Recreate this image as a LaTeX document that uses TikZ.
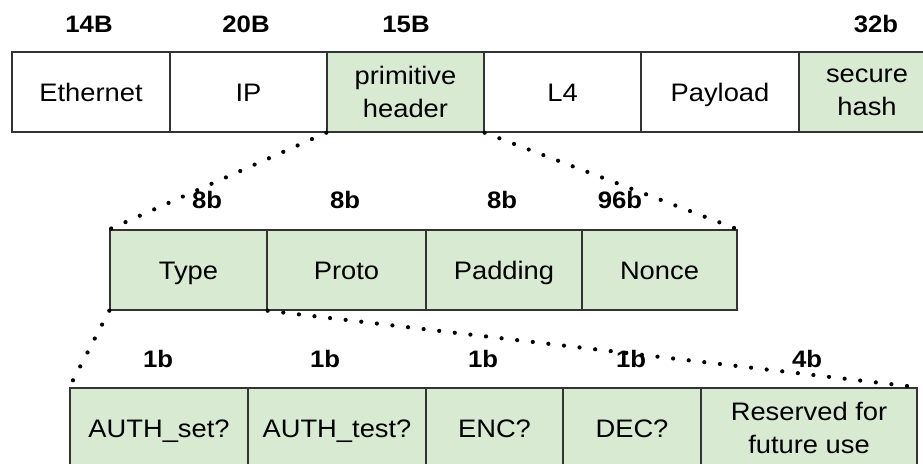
\documentclass[tikz,border=0pt]{standalone}
\usepackage{fontspec}
\setmainfont[FakeStretch=1.08]{Liberation Sans}
\definecolor{boxgreen}{HTML}{D9EAD3}
\definecolor{edge}{HTML}{333333}
\tikzset{
  box/.style={draw=edge, line width=1.4pt, minimum height=80pt, inner sep=0pt,
    font=\fontsize{25.3}{33}\selectfont, align=center},
  plain/.style={box, fill=white},
  green/.style={box, fill=boxgreen},
  one/.style={text height=18pt, text depth=0pt},
  size/.style={font=\fontsize{23.8}{26}\selectfont\bfseries, anchor=base, inner sep=0pt},
  dots/.style={line width=4.2pt, line cap=round, dash pattern=on 0pt off 15.7pt, draw=black}
}
\begin{document}
\begin{tikzpicture}[x=1pt,y=-1pt]
\useasboundingbox (0,0) rectangle (923,463);
\begin{scope}
\clip (0,0) rectangle (923,463);
% top row
\node[plain,one,minimum width=158pt] (eth) at (91,92) {Ethernet};
\node[plain,one,minimum width=157pt] (ip) at (248.5,92) {IP};
\node[green,minimum width=157pt] (ph) at (405.5,92) {primitive\\header};
\node[plain,one,minimum width=157pt] (l4) at (562.5,92) {L4};
\node[plain,one,minimum width=158pt] (pay) at (720,92) {Payload};
\node[green,minimum width=136pt] (hash) at (867,92) {secure\\hash};
% second row
\node[green,one,minimum width=157pt] (type) at (188.5,270) {Type};
\node[green,one,minimum width=159pt] (proto) at (346.5,270) {Proto};
\node[green,one,minimum width=156pt] (pad) at (504,270) {Padding};
\node[green,one,minimum width=155pt] (nonce) at (659.5,270) {Nonce};
% third row
\node[green,one,minimum width=178pt] (aset) at (159,428) {AUTH\_set?};
\node[green,one,minimum width=178pt] (atest) at (337,428) {AUTH\_test?};
\node[green,one,minimum width=137pt] (enc) at (494.5,428) {ENC?};
\node[green,one,minimum width=138pt] (dec) at (632,428) {DEC?};
\node[green,minimum width=216pt] (res) at (809,428) {Reserved for\\future use};
% size labels
\node[size] (s1) at (89,32) {14B};
\node[size] (s2) at (246,32) {20B};
\node[size] (s3) at (406,32) {15B};
\node[size] (s4) at (876,32) {32b};
\node[size] (t1) at (207,208) {8b};
\node[size] (t2) at (345,208) {8b};
\node[size] (t3) at (502,208) {8b};
\node[size] (t4) at (620,208) {96b};
\node[size] (u1) at (158,367) {1b};
\node[size] (u2) at (325,367) {1b};
\node[size] (u3) at (483,367) {1b};
\node[size] (u4) at (631,367) {1b};
\node[size] (u5) at (807,367) {4b};
% dotted expansions
\draw[dots] (ph.south west) -- (type.north west);
\draw[dots] (ph.south east) -- (nonce.north east);
\draw[dots] (type.south west) -- (aset.north west);
\draw[dots] (type.south east) -- (res.north east);
\end{scope}
\end{tikzpicture}
\end{document}
